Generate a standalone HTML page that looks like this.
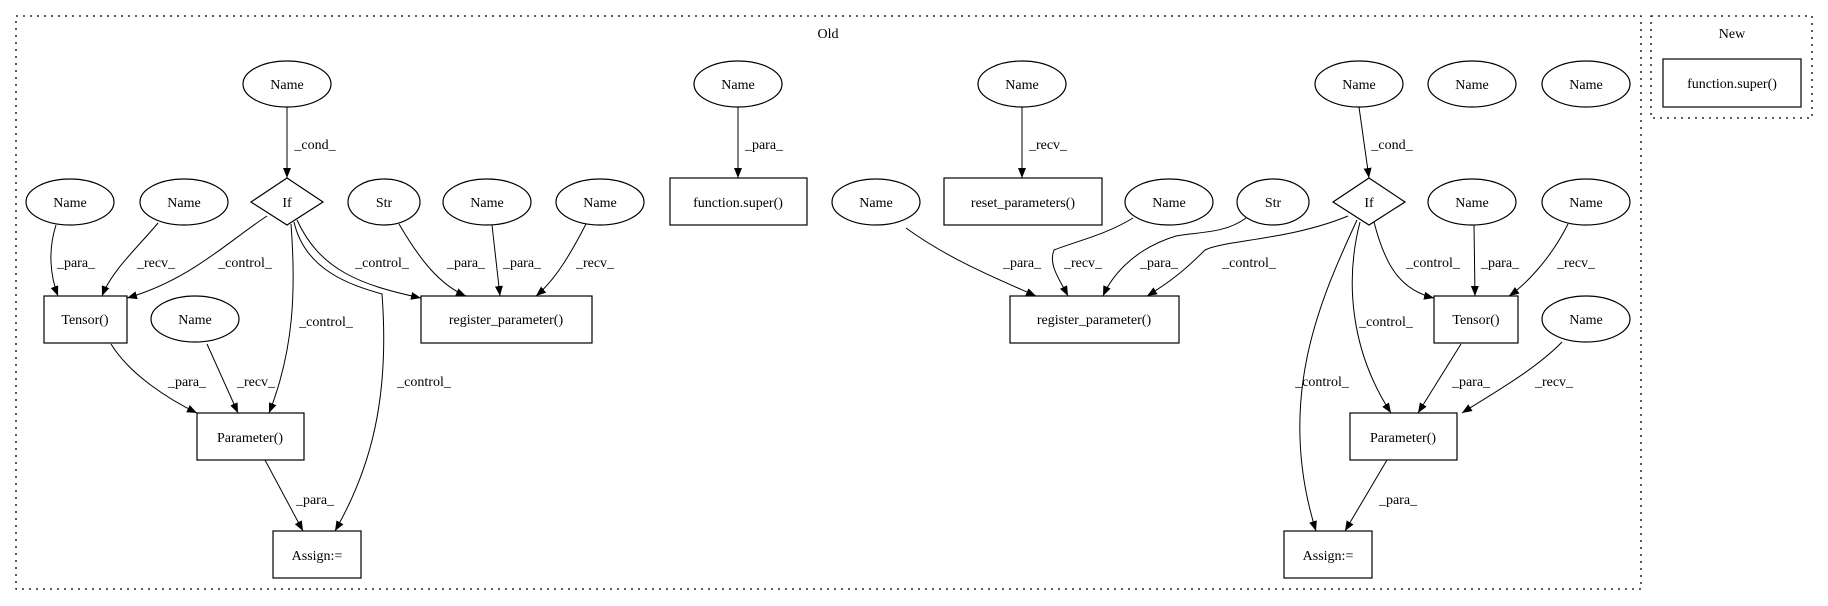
<!DOCTYPE html>
<html><head><meta charset="utf-8"><style>
html,body{margin:0;padding:0;background:#fff;}
svg{display:block;}
text{font-family:"Liberation Serif",serif;font-size:14px;fill:#000;}
</style></head><body>
<svg width="1828" height="606" viewBox="0 0 1828 606" xmlns="http://www.w3.org/2000/svg">
<defs>
<marker id="a" markerWidth="10" markerHeight="8" refX="10" refY="4" orient="auto" markerUnits="userSpaceOnUse">
<path d="M0,0 L10,4 L0,8 Z" fill="#000"/>
</marker>
</defs>
<g fill="none" stroke="#000" stroke-width="1.3" stroke-dasharray="2,5">
<rect x="16" y="16" width="1625" height="573"/>
<rect x="1651" y="16" width="161" height="102"/>
</g>
<text x="828" y="38" text-anchor="middle">Old</text>
<text x="1732" y="38" text-anchor="middle">New</text>

<g fill="none" stroke="#000" stroke-width="1.2">
<!-- nodes ellipses -->
<ellipse cx="287" cy="84" rx="44" ry="23"/>
<ellipse cx="738" cy="84" rx="44" ry="23"/>
<ellipse cx="1022" cy="84" rx="44" ry="23"/>
<ellipse cx="1359" cy="84" rx="44" ry="23"/>
<ellipse cx="1472" cy="84" rx="44" ry="23"/>
<ellipse cx="1586" cy="84" rx="44" ry="23"/>
<ellipse cx="70" cy="202" rx="44" ry="23"/>
<ellipse cx="184" cy="202" rx="44" ry="23"/>
<ellipse cx="384" cy="202" rx="36" ry="23"/>
<ellipse cx="487" cy="202" rx="44" ry="23"/>
<ellipse cx="600" cy="202" rx="44" ry="23"/>
<ellipse cx="876" cy="202" rx="44" ry="23"/>
<ellipse cx="1169" cy="202" rx="44" ry="23"/>
<ellipse cx="1273" cy="202" rx="36" ry="23"/>
<ellipse cx="1472" cy="202" rx="44" ry="23"/>
<ellipse cx="1586" cy="202" rx="44" ry="23"/>
<ellipse cx="195" cy="319" rx="44" ry="23"/>
<ellipse cx="1586" cy="319" rx="44" ry="23"/>
<!-- diamonds -->
<path d="M287,178 L323,202 L287,225 L251,202 Z"/>
<path d="M1369,178 L1405,202 L1369,225 L1333,202 Z"/>
<!-- boxes -->
<rect x="670" y="178" width="137" height="47"/>
<rect x="944" y="178" width="158" height="47"/>
<rect x="44" y="296" width="83" height="47"/>
<rect x="421" y="296" width="171" height="47"/>
<rect x="1010" y="296" width="169" height="47"/>
<rect x="1434" y="296" width="84" height="47"/>
<rect x="197" y="413" width="107" height="47"/>
<rect x="1350" y="413" width="107" height="47"/>
<rect x="273" y="531" width="88" height="47"/>
<rect x="1284" y="531" width="88" height="47"/>
<rect x="1663" y="59" width="138" height="48"/>
</g>

<g fill="none" stroke="#000" stroke-width="1" marker-end="url(#a)">
<path d="M287,107 L287,178"/>
<path d="M738,107 L738,178"/>
<path d="M1022,107 L1022,178"/>
<path d="M1359,107 L1369,178"/>
<path d="M56,225 C48,250 50,275 58,296"/>
<path d="M158,223 C140,245 112,270 102,296"/>
<path d="M267,216 C230,240 190,280 127,298"/>
<path d="M291,224 C296,290 294,350 269,413"/>
<path d="M297,220 C320,270 360,285 421,298"/>
<path d="M294,222 C305,270 350,285 382,294 C390,400 370,470 335,531"/>
<path d="M399,224 C420,260 440,285 466,296"/>
<path d="M492,225 L500,296"/>
<path d="M586,224 C570,255 555,280 536,296"/>
<path d="M111,344 C130,375 170,400 197,413"/>
<path d="M207,344 L238,413"/>
<path d="M265,460 L303,531"/>
<path d="M906,228 C950,260 1000,280 1036,296"/>
<path d="M1133,218 C1105,235 1080,240 1054,250 C1048,265 1060,280 1068,296"/>
<path d="M1246,218 C1225,234 1195,232 1176,236 C1130,250 1110,280 1103,296"/>
<path d="M1348,216 C1290,240 1225,240 1205,250 C1185,270 1170,282 1147,296"/>
<path d="M1357,220 C1320,300 1275,400 1316,531"/>
<path d="M1360,222 C1345,280 1350,350 1391,413"/>
<path d="M1374,222 C1385,265 1400,290 1434,298"/>
<path d="M1474,225 L1475,296"/>
<path d="M1568,224 C1550,260 1525,285 1509,296"/>
<path d="M1461,344 L1418,413"/>
<path d="M1562,342 C1535,370 1490,395 1462,413"/>
<path d="M1387,460 L1345,531"/>
</g>

<g text-anchor="middle">
<text x="287" y="89">Name</text>
<text x="738" y="89">Name</text>
<text x="1022" y="89">Name</text>
<text x="1359" y="89">Name</text>
<text x="1472" y="89">Name</text>
<text x="1586" y="89">Name</text>
<text x="70" y="207">Name</text>
<text x="184" y="207">Name</text>
<text x="384" y="207">Str</text>
<text x="487" y="207">Name</text>
<text x="600" y="207">Name</text>
<text x="876" y="207">Name</text>
<text x="1169" y="207">Name</text>
<text x="1273" y="207">Str</text>
<text x="1472" y="207">Name</text>
<text x="1586" y="207">Name</text>
<text x="195" y="324">Name</text>
<text x="1586" y="324">Name</text>
<text x="287" y="207">If</text>
<text x="1369" y="207">If</text>
<text x="738" y="207">function.super()</text>
<text x="1023" y="207">reset_parameters()</text>
<text x="85" y="324">Tensor()</text>
<text x="506" y="324">register_parameter()</text>
<text x="1094" y="324">register_parameter()</text>
<text x="1476" y="324">Tensor()</text>
<text x="250" y="442">Parameter()</text>
<text x="1403" y="442">Parameter()</text>
<text x="317" y="560">Assign:=</text>
<text x="1328" y="560">Assign:=</text>
<text x="1732" y="88">function.super()</text>
<!-- edge labels -->
<text x="315" y="149">_cond_</text>
<text x="764" y="149">_para_</text>
<text x="1048" y="149">_recv_</text>
<text x="1392" y="149">_cond_</text>
<text x="76" y="267">_para_</text>
<text x="156" y="267">_recv_</text>
<text x="245" y="267">_control_</text>
<text x="382" y="267">_control_</text>
<text x="466" y="267">_para_</text>
<text x="522" y="267">_para_</text>
<text x="595" y="267">_recv_</text>
<text x="326" y="326">_control_</text>
<text x="424" y="386">_control_</text>
<text x="187" y="386">_para_</text>
<text x="256" y="386">_recv_</text>
<text x="315" y="504">_para_</text>
<text x="1022" y="267">_para_</text>
<text x="1083" y="267">_recv_</text>
<text x="1159" y="267">_para_</text>
<text x="1249" y="267">_control_</text>
<text x="1433" y="267">_control_</text>
<text x="1500" y="267">_para_</text>
<text x="1576" y="267">_recv_</text>
<text x="1386" y="326">_control_</text>
<text x="1322" y="386">_control_</text>
<text x="1471" y="386">_para_</text>
<text x="1554" y="386">_recv_</text>
<text x="1398" y="504">_para_</text>
</g>
</svg>
</body></html>
